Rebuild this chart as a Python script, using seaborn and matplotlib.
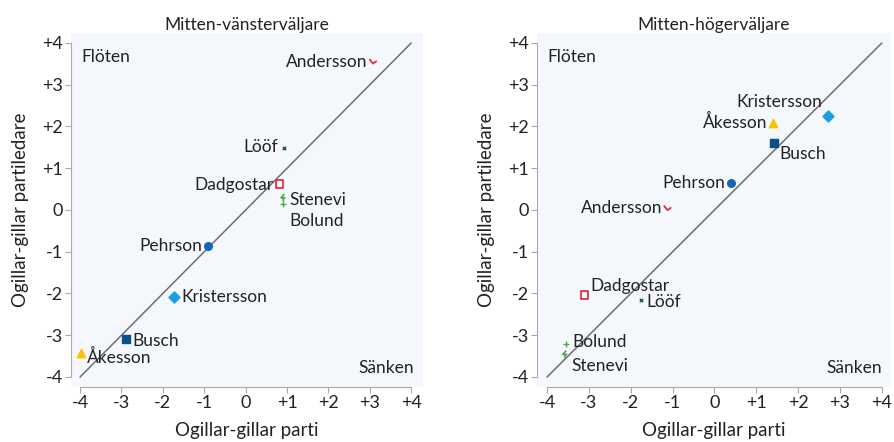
import numpy as np
import pandas as pd
import matplotlib
matplotlib.use("Agg")
import matplotlib.pyplot as plt
from matplotlib.path import Path
import seaborn as sns

# --- Data ---
names = ["Andersson", "Lööf", "Dadgostar", "Stenevi", "Bolund",
         "Pehrson", "Kristersson", "Busch", "Åkesson"]

# Mitten-vänsterväljare
left_parti = [3.10, 0.93, 0.81, 0.91, 0.91, -0.91, -1.73, -2.88, -3.98]
left_ledare = [3.55, 1.49, 0.62, 0.29, 0.14, -0.86, -2.08, -3.10, -3.43]

# Mitten-högerväljare
right_parti = [-1.10, -1.75, -3.10, -3.57, -3.54, 0.40, 2.72, 1.43, 1.40]
right_ledare = [0.04, -2.16, -2.04, -3.46, -3.20, 0.64, 2.25, 1.61, 2.08]

tick_vals = [-4, -3, -2, -1, 0, 1, 2, 3, 4]
tick_labels = ["-4", "-3", "-2", "-1", "0", "+1", "+2", "+3", "+4"]

titles = ["Mitten-vänsterväljare", "Mitten-högerväljare"]

# --- Styles ---
V_MARK = Path([(-1, 0.6), (-0.2, -0.4), (0.6, 0.2)],
              [Path.MOVETO, Path.LINETO, Path.LINETO])
ZIG_MARK = Path([(0.3, 1.0), (-0.6, 0.0), (0.6, 0.0), (0.0, -0.2), (0.0, -1.0)],
                [Path.MOVETO, Path.LINETO, Path.LINETO, Path.MOVETO, Path.LINETO])

styles = {
    "Andersson":   dict(marker=V_MARK, color="#e5202e", s=45, open=True),
    "Lööf":        dict(marker="x", color="#1f5a3c", s=6, open=False),
    "Dadgostar":   dict(marker="s", color="#e5202e", s=28, open=True),
    "Stenevi":     dict(marker=ZIG_MARK, color="#4aa84c", s=30, open=True),
    "Bolund":      dict(marker="+", color="#4aa84c", s=22, open=False),
    "Pehrson":     dict(marker="o", color="#1467b3", s=30, open=False),
    "Kristersson": dict(marker="D", color="#1aa0df", s=32, open=False),
    "Busch":       dict(marker="s", color="#0b4f8c", s=32, open=False),
    "Åkesson":     dict(marker="^", color="#f6c500", s=36, open=False),
}

# label offsets in pixels (dx, dy, ha)
left_offsets = {
    "Andersson": (-7, 0, "right"), "Lööf": (-6, 1, "right"),
    "Dadgostar": (-6, -1, "right"), "Stenevi": (6, -2, "left"),
    "Bolund": (6, -17, "left"), "Pehrson": (-6, 0, "right"),
    "Kristersson": (7, 0, "left"), "Busch": (6, -2, "left"),
    "Åkesson": (6, -4, "left"),
}
right_offsets = {
    "Andersson": (-6, 0, "right"), "Lööf": (5, -2, "left"),
    "Dadgostar": (6, 9, "left"), "Stenevi": (6, -12, "left"),
    "Bolund": (6, 2, "left"), "Pehrson": (-6, 0, "right"),
    "Kristersson": (-6, 14, "right"), "Busch": (5, -11, "left"),
    "Åkesson": (-6, 1, "right"),
}

sns.set_theme(style="white")
plt.rcParams["font.family"] = ["Lato", "DejaVu Sans"]
plt.rcParams["font.size"] = 12.5
TEXT = "#222222"
GRAY = "#aaaaaa"
BG = "#f4f8fd"

fig = plt.figure(figsize=(8.94, 4.42), dpi=100)
axes = [fig.add_axes([0.0794, 0.1244, 0.394, 0.801]),
        fig.add_axes([0.6007, 0.1244, 0.396, 0.801])]
limits = [((-4.22, 4.29), (-4.24, 4.24)), ((-4.24, 4.22), (-4.24, 4.24))]
panels = [(left_parti, left_ledare, left_offsets),
          (right_parti, right_ledare, right_offsets)]

for ax, (xs, ys, offs), title, (xl, yl) in zip(axes, panels, titles, limits):
    ax.set_facecolor(BG)
    ax.plot([-4, 4], [-4, 4], color="#6e6e6e", lw=1.1, zorder=1)

    df = pd.DataFrame({"namn": names, "parti": xs, "ledare": ys})
    for _, row in df.iterrows():
        st = styles[row["namn"]]
        if st["open"]:
            sns.scatterplot(x=[row["parti"]], y=[row["ledare"]], ax=ax,
                            marker=st["marker"], s=st["s"], facecolors="none",
                            edgecolors=st["color"], linewidths=1.2, zorder=3)
        else:
            sns.scatterplot(x=[row["parti"]], y=[row["ledare"]], ax=ax,
                            marker=st["marker"], s=st["s"], color=st["color"],
                            edgecolor=st["color"], linewidth=1.0, zorder=3)
        dx, dy, ha = offs[row["namn"]]
        ax.annotate(row["namn"], (row["parti"], row["ledare"]),
                    xytext=(dx, dy), textcoords="offset pixels",
                    ha=ha, va="center", fontsize=12.5, color=TEXT)

    ax.text(0.03, 0.955, "Flöten", transform=ax.transAxes,
            ha="left", va="top", fontsize=12.5, color=TEXT)
    ax.text(0.975, 0.03, "Sänken", transform=ax.transAxes,
            ha="right", va="bottom", fontsize=12.5, color=TEXT)

    ax.set_xlim(*xl)
    ax.set_ylim(*yl)
    ax.set_xticks(tick_vals)
    ax.set_xticklabels(tick_labels)
    ax.set_yticks(tick_vals)
    ax.set_yticklabels(tick_labels)
    ax.tick_params(axis="both", length=4, width=0.8, color=GRAY,
                   labelsize=13, labelcolor=TEXT, pad=2, direction="out",
                   bottom=True, left=True)
    for side in ["top", "right"]:
        ax.spines[side].set_visible(False)
    for side in ["left", "bottom"]:
        ax.spines[side].set_color(GRAY)
        ax.spines[side].set_linewidth(0.8)
        ax.spines[side].set_bounds(-4, 4)
    ax.set_xlabel("Ogillar-gillar parti", fontsize=13.5, color=TEXT, labelpad=8)
    ax.set_ylabel("Ogillar-gillar partiledare", fontsize=13.5, color=TEXT, labelpad=9)
    ax.set_title(title, fontsize=12.5, color=TEXT, pad=2)

fig.savefig("out.png", dpi=100)
